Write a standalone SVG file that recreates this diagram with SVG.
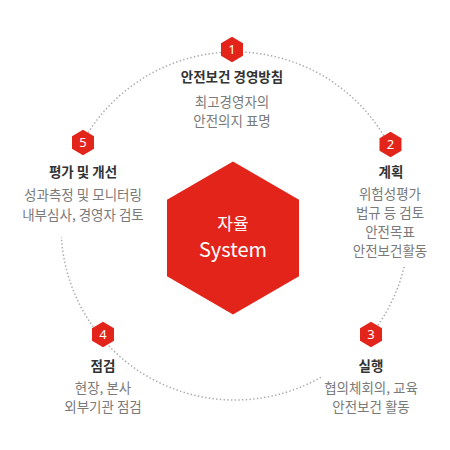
<svg xmlns="http://www.w3.org/2000/svg" width="450" height="450" viewBox="0 0 450 450">
<style>
.bg{fill:#ffffff}
.arc{fill:none;stroke:#aaaaaa;stroke-width:1.5;stroke-dasharray:1.4 2.3}
.hex{fill:#e3241b}
.num{font-family:"Noto Sans","Liberation Sans",sans-serif;font-size:13px;fill:#ffffff;text-anchor:middle}
.title{font-family:"Noto Sans CJK KR","Noto Sans",sans-serif;font-size:13.5px;font-weight:bold;fill:#333333;text-anchor:middle}
.desc{font-family:"Noto Sans CJK KR","Noto Sans",sans-serif;font-size:13.5px;fill:#7a7a7a;text-anchor:middle}
.core{font-family:"Noto Sans CJK KR","Noto Sans",sans-serif;fill:#ffffff;text-anchor:middle}
</style>
<defs>
<polygon id="badge" class="hex" points="0,-12.7 11,-6.35 11,6.35 0,12.7 -11,6.35 -11,-6.35"/>
</defs>
<rect class="bg" x="0" y="0" width="450" height="450"/>
<g id="connectors">
<path class="arc" d="M 82.5 142.2 A 174 174 0 0 1 389.1 145.1"/>
<path class="arc" d="M 404.1 266.9 A 174 174 0 0 1 371.0 334.6"/>
<path class="arc" d="M 320.9 377.3 A 174 174 0 0 1 61.3 236.9"/>
</g>
<g id="center">
<polygon class="hex" points="233,161.5 299,199.75 299,276.25 233,314.5 167,276.25 167,199.75"/>
<text class="core" x="233" y="230" font-size="17">자율</text>
<text class="core" x="233" y="257" font-size="20">System</text>
</g>
<g id="step1">
<use href="#badge" x="232" y="49.5"/>
<text class="num" x="232" y="54">1</text>
<text class="title" x="232" y="82">안전보건 경영방침</text>
<text class="desc" x="232" y="107">최고경영자의</text>
<text class="desc" x="232" y="126">안전의지 표명</text>
</g>
<g id="step2">
<use href="#badge" x="390.5" y="144.5"/>
<text class="num" x="390.5" y="149">2</text>
<text class="title" x="391" y="177">계획</text>
<text class="desc" x="390" y="199">위험성평가</text>
<text class="desc" x="390" y="218">법규 등 검토</text>
<text class="desc" x="390" y="237">안전목표</text>
<text class="desc" x="390" y="256">안전보건활동</text>
</g>
<g id="step3">
<use href="#badge" x="371" y="334.5"/>
<text class="num" x="371" y="339">3</text>
<text class="title" x="371" y="371">실행</text>
<text class="desc" x="371" y="393">협의체회의, 교육</text>
<text class="desc" x="371" y="412">안전보건 활동</text>
</g>
<g id="step4">
<use href="#badge" x="103" y="334.5"/>
<text class="num" x="103" y="339">4</text>
<text class="title" x="103" y="371">점검</text>
<text class="desc" x="103" y="393">현장, 본사</text>
<text class="desc" x="103" y="412">외부기관 점검</text>
</g>
<g id="step5">
<use href="#badge" x="83" y="142.5"/>
<text class="num" x="83" y="147">5</text>
<text class="title" x="83" y="177">평가 및 개선</text>
<text class="desc" x="83" y="200">성과측정 및 모니터링</text>
<text class="desc" x="83" y="220">내부심사, 경영자 검토</text>
</g>
</svg>
